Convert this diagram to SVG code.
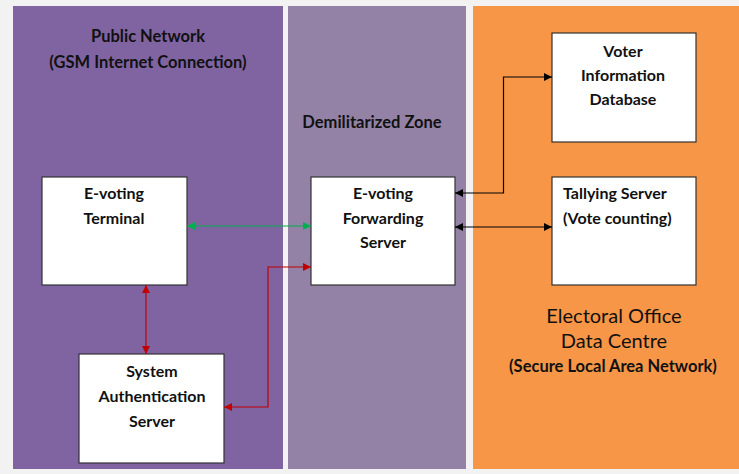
<svg xmlns="http://www.w3.org/2000/svg" width="739" height="474" viewBox="0 0 739 474">
<defs>
<style>
.t{font-family:Lato,"Open Sans","Liberation Sans",sans-serif;font-weight:bold;fill:#111;text-anchor:middle}
.s{font-size:16px}
.box{fill:#fff;stroke:#333;stroke-width:1.2}
.k{fill:none;stroke:#000;stroke-width:1.2}
.r{fill:none;stroke:#c00000;stroke-width:1.2}
.g{fill:none;stroke:#00b050;stroke-width:1.2}
</style>
<marker id="ak" viewBox="0 0 10 10" refX="10" refY="5" markerWidth="8" markerHeight="8" markerUnits="userSpaceOnUse" orient="auto-start-reverse"><path d="M0,0L10,5L0,10z" fill="#000"/></marker>
<marker id="ar" viewBox="0 0 10 10" refX="10" refY="5" markerWidth="8" markerHeight="8" markerUnits="userSpaceOnUse" orient="auto-start-reverse"><path d="M0,0L10,5L0,10z" fill="#c00000"/></marker>
<marker id="ag" viewBox="0 0 10 10" refX="10" refY="5" markerWidth="8" markerHeight="8" markerUnits="userSpaceOnUse" orient="auto-start-reverse"><path d="M0,0L10,5L0,10z" fill="#00b050"/></marker>
</defs>
<rect width="739" height="474" fill="#f2f2f2"/>
<g id="zone-public">
<rect x="13" y="6" width="270" height="463" fill="#8064a2"/>
<text class="t" x="148" y="42" style="font-size:16.5px">Public Network</text>
<text class="t" x="148" y="68" style="font-size:16.5px">(GSM Internet Connection)</text>
</g>
<g id="zone-dmz">
<rect x="288" y="6" width="178" height="463" fill="#9382a6"/>
<text class="t" x="372" y="128" style="font-size:16.5px">Demilitarized Zone</text>
</g>
<g id="zone-electoral">
<rect x="473" y="6" width="266" height="463" fill="#f79646"/>
<text class="t" x="614" y="323" style="font-size:20px;font-weight:normal">Electoral Office</text>
<text class="t" x="614" y="348" style="font-size:20px;font-weight:normal">Data Centre</text>
<text class="t" x="613" y="372" style="font-size:16.5px">(Secure Local Area Network)</text>
</g>
<g id="terminal">
<rect class="box" x="42" y="177" width="145" height="108"/>
<text class="t s" x="114" y="199">E-voting</text>
<text class="t s" x="114" y="224">Terminal</text>
</g>
<g id="forwarding">
<rect class="box" x="311" y="177" width="144" height="108"/>
<text class="t s" x="383" y="199">E-voting</text>
<text class="t s" x="383" y="224">Forwarding</text>
<text class="t s" x="383" y="248">Server</text>
</g>
<g id="auth">
<rect class="box" x="79" y="354" width="145" height="109"/>
<text class="t s" x="152" y="377">System</text>
<text class="t s" x="152" y="402">Authentication</text>
<text class="t s" x="152" y="427">Server</text>
</g>
<g id="voterdb">
<rect class="box" x="552" y="33" width="144" height="109"/>
<text class="t s" x="623" y="57">Voter</text>
<text class="t s" x="623" y="81">Information</text>
<text class="t s" x="623" y="105">Database</text>
</g>
<g id="tally">
<rect class="box" x="552" y="177" width="144" height="108"/>
<text class="t s" x="563" y="199" style="text-anchor:start">Tallying Server</text>
<text class="t s" x="563" y="224" style="text-anchor:start">(Vote counting)</text>
</g>
<g id="connectors">
<path class="g" d="M187,226H311" marker-start="url(#ag)" marker-end="url(#ag)"/>
<path class="r" d="M146,285V354" marker-start="url(#ar)" marker-end="url(#ar)"/>
<path class="r" d="M311,267H268V407H224" marker-start="url(#ar)" marker-end="url(#ar)"/>
<path class="k" d="M455,193H503.5V77H552" marker-start="url(#ak)" marker-end="url(#ak)"/>
<path class="k" d="M455,227H552" marker-start="url(#ak)" marker-end="url(#ak)"/>
</g>
</svg>
